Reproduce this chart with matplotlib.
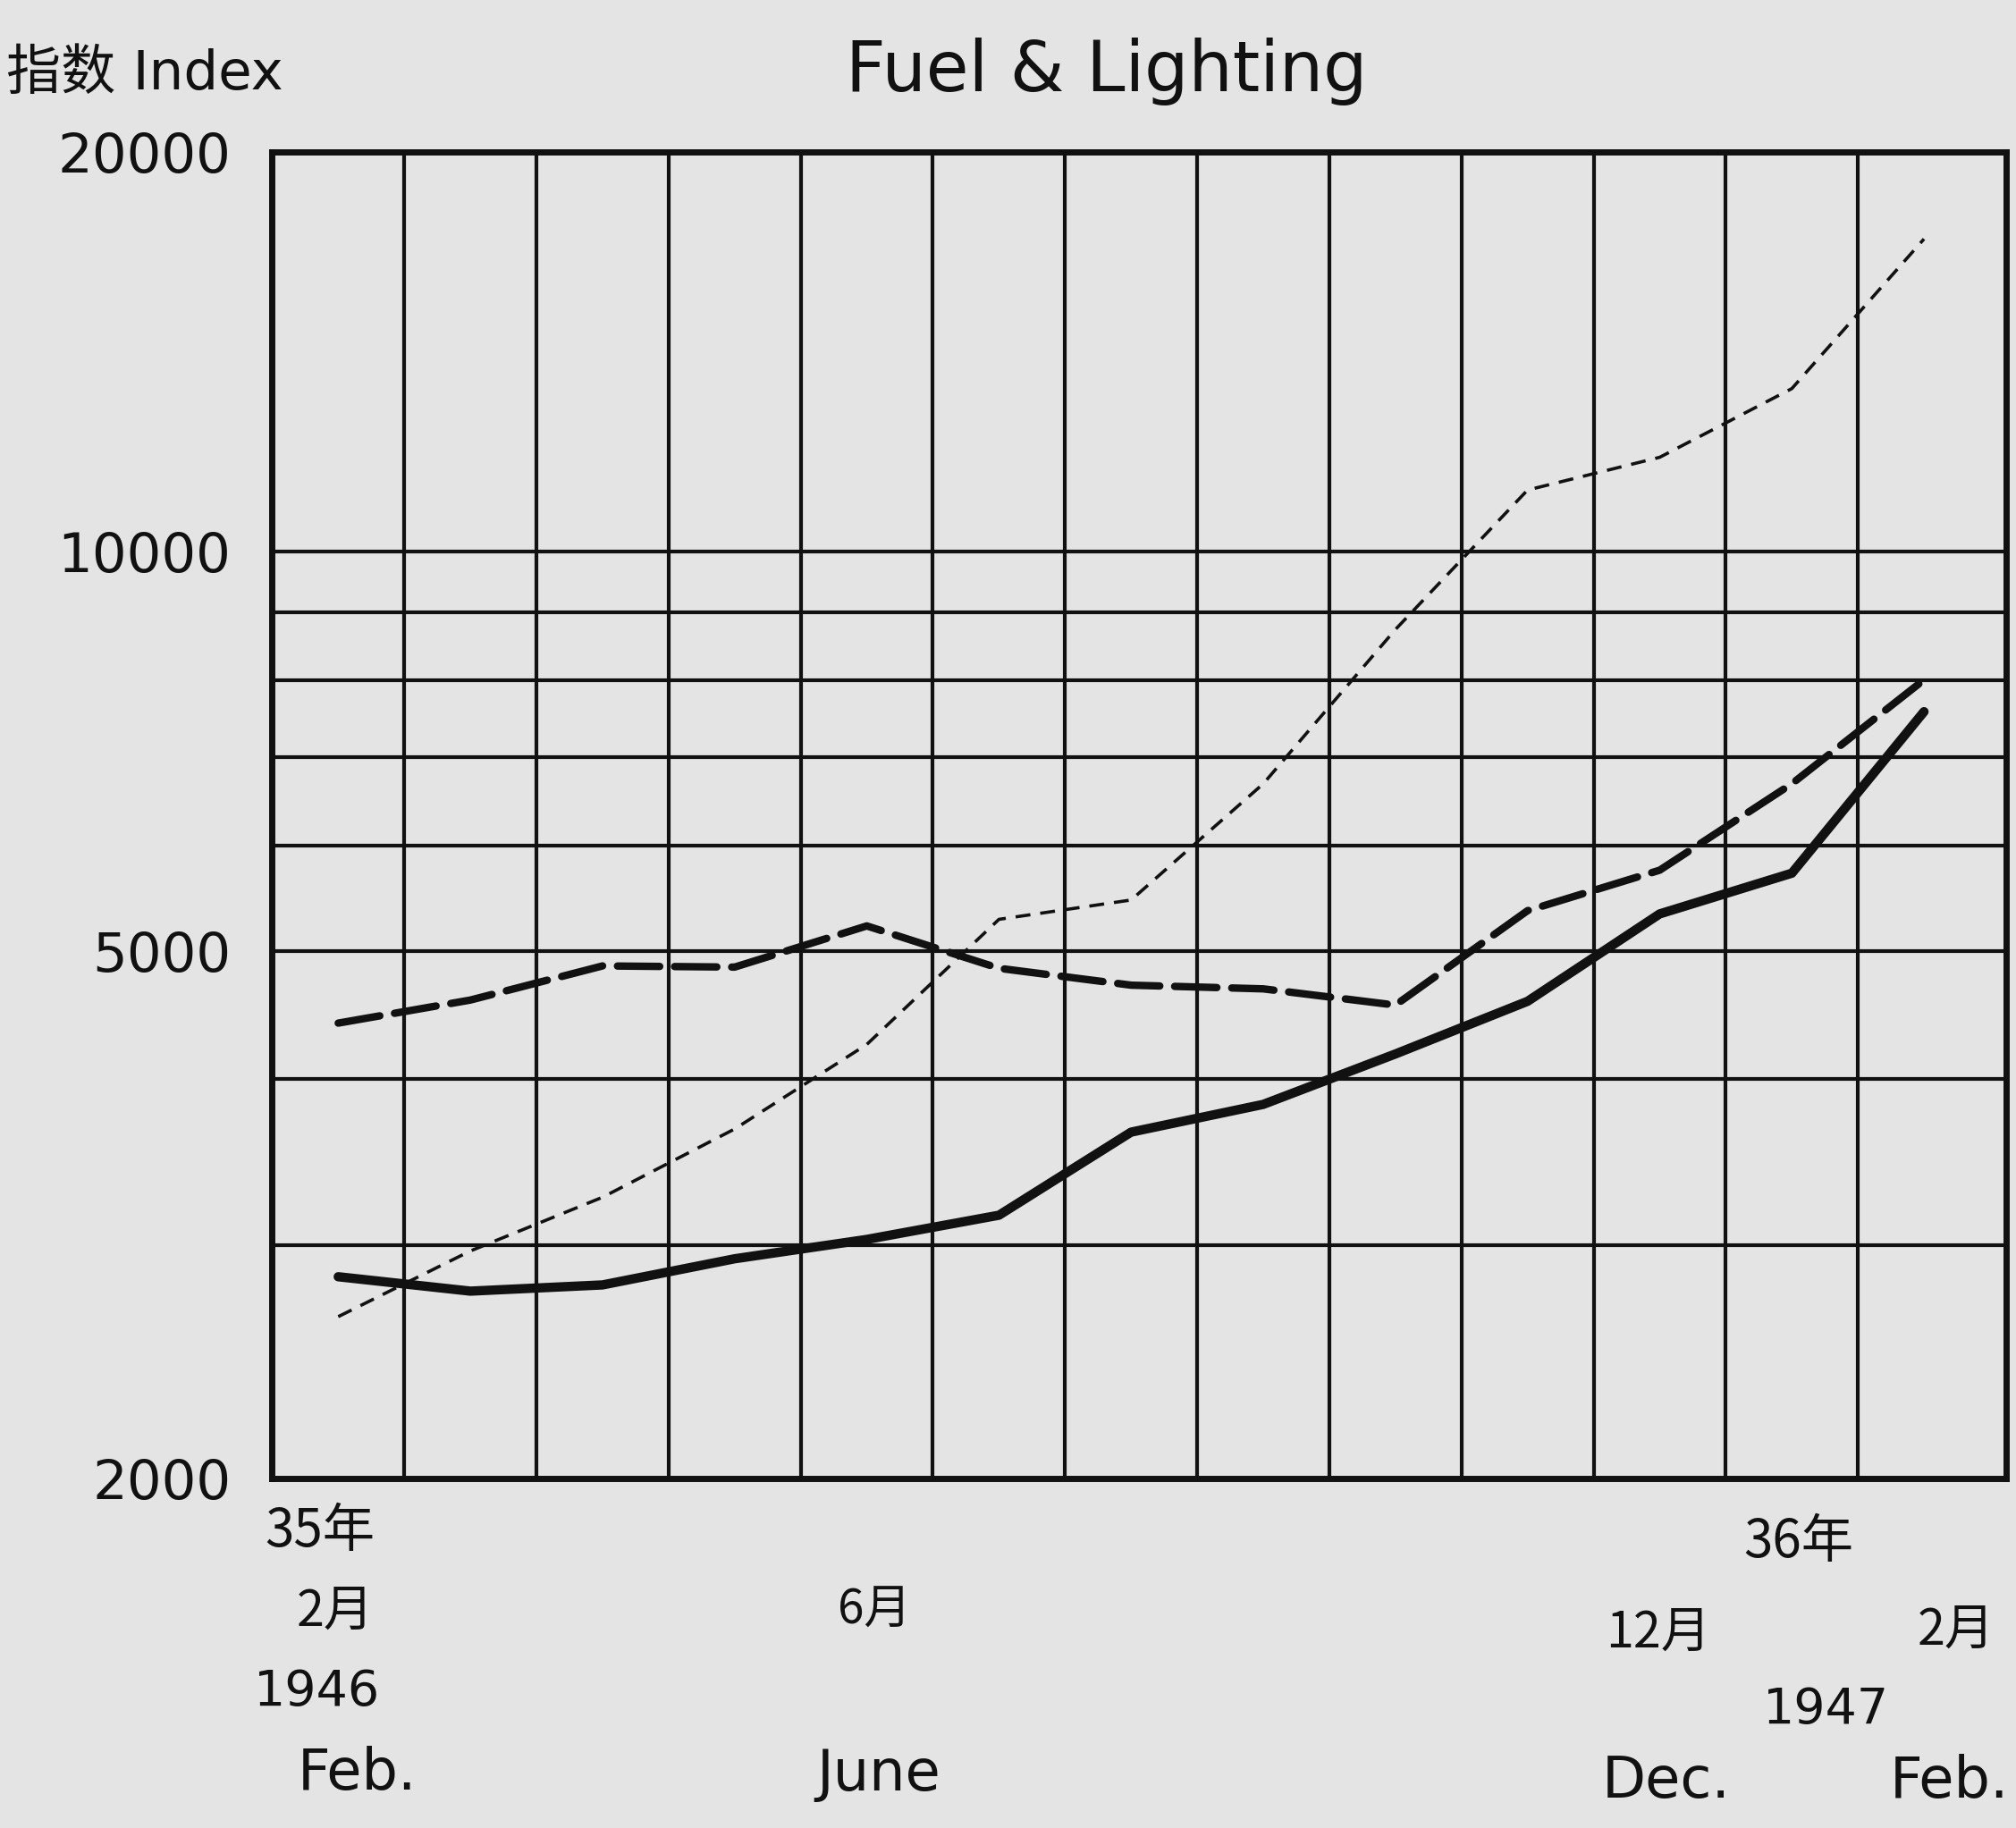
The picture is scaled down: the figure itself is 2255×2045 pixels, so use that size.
import matplotlib
matplotlib.use('Agg')
import matplotlib.pyplot as plt
from matplotlib.ticker import FixedLocator, NullLocator

plt.rcParams['lines.scale_dashes'] = False

# months Feb 1946 .. Feb 1947 (index 0..12)
months = list(range(13))

# index values (log scale)
solid_vals = [2840, 2770, 2800, 2930, 3030, 3160, 3650, 3830, 4180, 4580, 5330, 5720, 7570]
thick_dash_vals = [4410, 4590, 4870, 4860, 5220, 4850, 4710, 4680, 4550, 5360, 5750, 6680, 8000]
thin_dash_vals = [2650, 2970, 3260, 3670, 4250, 5280, 5460, 6680, 8730, 11120, 11770, 13260, 17190]

grid_vals = [2000, 3000, 4000, 5000, 6000, 7000, 8000, 9000, 10000, 20000]
label_vals = [2000, 5000, 10000, 20000]

title = 'Fuel & Lighting'
ylabel = '指数 Index'

paper = '#e4e4e4'
ink = '#111111'

fig = plt.figure(figsize=(22.55, 20.45), dpi=100, facecolor=paper)
ax = fig.add_axes([0.135, 0.191, 0.86, 0.726])
ax.set_facecolor(paper)

# data lines
ax.plot(months, solid_vals, color=ink, lw=7.5, solid_joinstyle='round',
        solid_capstyle='round')
ax.plot(months, thick_dash_vals, color=ink, lw=6, dashes=(34, 12),
        dash_capstyle='round', dash_joinstyle='round')
ax.plot(months, thin_dash_vals, color=ink, lw=2.6, dashes=(12, 8))

ax.set_yscale('log')
ax.set_ylim(2000, 20000)
ax.set_xlim(-0.5, 12.62)

# grid
for v in grid_vals:
    ax.axhline(v, color=ink, lw=3, zorder=1)
for k in range(12):
    ax.axvline(k + 0.5, color=ink, lw=3, zorder=1)

for s in ax.spines.values():
    s.set_linewidth(5)
    s.set_color(ink)

ax.yaxis.set_major_locator(FixedLocator(label_vals))
ax.yaxis.set_minor_locator(NullLocator())
ax.set_yticklabels([str(v) for v in label_vals])
ax.tick_params(axis='y', length=0, pad=33, labelsize=44, labelcolor=ink)
ax.set_xticks([])

# x axis labels (Chinese calendar + western)
cjk = ['Noto Sans CJK SC', 'DejaVu Sans']
tr = ax.get_xaxis_transform()
ax.text(-0.14, -0.040, '35年', transform=tr, ha='center', va='center',
        fontsize=42, family=cjk, color=ink)
ax.text(-0.02, -0.100, '2月', transform=tr, ha='center', va='center',
        fontsize=40, family=cjk, color=ink)
ax.text(-0.16, -0.161, '1946', transform=tr, ha='center', va='center',
        fontsize=40, color=ink)
ax.text(0.14, -0.222, 'Feb.', transform=tr, ha='center', va='center',
        fontsize=46, color=ink)

ax.text(4.06, -0.099, '6月', transform=tr, ha='center', va='center',
        fontsize=38, family=cjk, color=ink)
ax.text(4.09, -0.223, 'June', transform=tr, ha='center', va='center',
        fontsize=46, color=ink)

ax.text(11.05, -0.048, '36年', transform=tr, ha='center', va='center',
        fontsize=42, family=cjk, color=ink)
ax.text(9.99, -0.116, '12月', transform=tr, ha='center', va='center',
        fontsize=40, family=cjk, color=ink)
ax.text(12.24, -0.114, '2月', transform=tr, ha='center', va='center',
        fontsize=40, family=cjk, color=ink)
ax.text(11.26, -0.174, '1947', transform=tr, ha='center', va='center',
        fontsize=40, color=ink)
ax.text(10.05, -0.228, 'Dec.', transform=tr, ha='center', va='center',
        fontsize=46, color=ink)
ax.text(12.64, -0.228, 'Feb.', transform=tr, ha='right', va='center',
        fontsize=46, color=ink)

# title and y axis caption
fig.text(0.549, 0.961, title, ha='center', va='center', fontsize=56, color=ink)
fig.text(0.003, 0.959, ylabel, ha='left', va='center', fontsize=44,
         family=['DejaVu Sans', 'Noto Sans CJK SC'], color=ink)

fig.savefig('out.png', dpi=100, facecolor=paper)
